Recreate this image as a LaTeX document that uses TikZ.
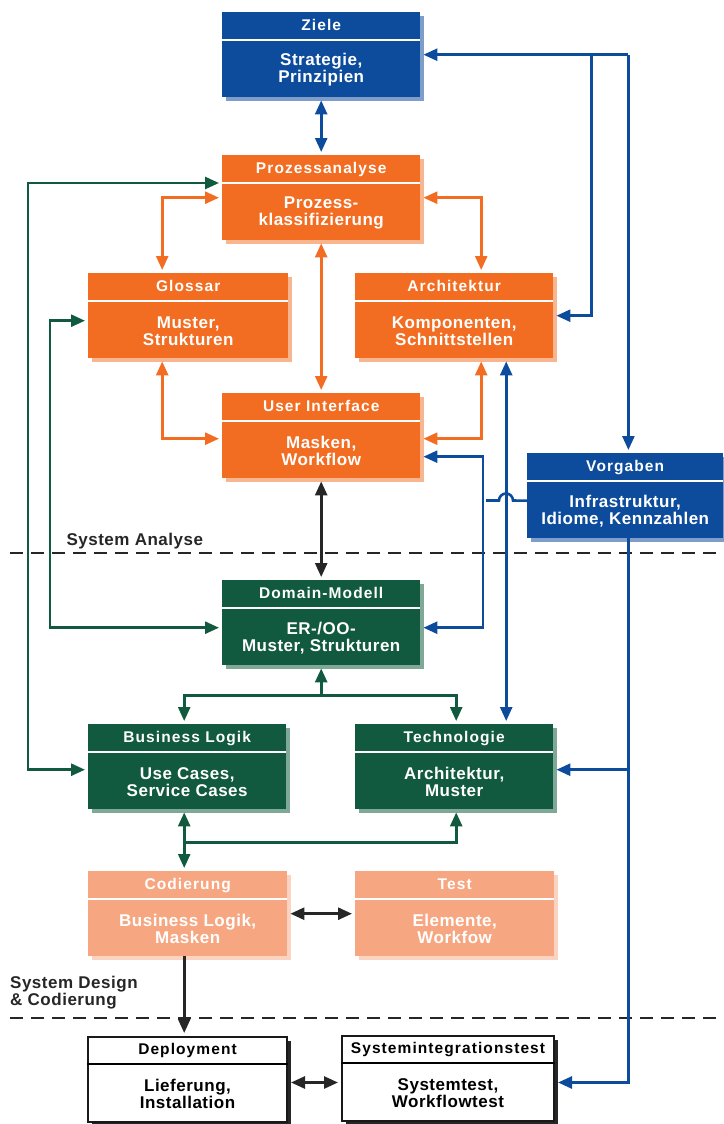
\documentclass[tikz,border=0pt]{standalone}
\usepackage{fontspec}
\setmainfont{Liberation Sans}
\newfontfamily\headfont{Liberation Sans}[LetterSpace=7]
\newfontfamily\bodyfont{Liberation Sans}[LetterSpace=3]
\usetikzlibrary{arrows.meta,shadows}

\definecolor{zblue}{HTML}{0D4C9C}
\definecolor{zblueS}{HTML}{7E9DCB}
\definecolor{zorange}{HTML}{F26D21}
\definecolor{zorangeS}{HTML}{F8B690}
\definecolor{zgreen}{HTML}{115A40}
\definecolor{zgreenS}{HTML}{80A897}
\definecolor{zsalmon}{HTML}{F6A782}
\definecolor{zsalmonS}{HTML}{FAD4C1}

\tikzset{
  box/.style={anchor=north west, inner sep=0pt, minimum width=198pt, minimum height=85pt},
  shade/.style={drop shadow={shadow xshift=4pt, shadow yshift=-4pt, fill=#1, opacity=1}},
  bluebox/.style={box, fill=zblue, shade=zblueS},
  orangebox/.style={box, fill=zorange, shade=zorangeS},
  greenbox/.style={box, fill=zgreen, shade=zgreenS},
  salmonbox/.style={box, fill=zsalmon, shade=zsalmonS},
  whitebox/.style={box, fill=white, draw=black!90, line width=2pt, shade=black!85},
  title/.style={font=\headfont\bfseries\fontsize{15.5}{17}\selectfont,
    inner sep=0pt, text height=11.5pt, text depth=3.3pt},
  body/.style={font=\bodyfont\bfseries\fontsize{17}{17}\selectfont, align=center},
  con/.style={line width=2.6pt, >={Triangle[length=14pt,width=12pt]}, shorten >=3pt},
  twoway/.style={<->, shorten <=3pt},
  bline/.style={con, zblue},
  oline/.style={con, zorange},
  gline/.style={con, zgreen},
  kline/.style={con, black!85},
  divline/.style={line width=2pt, black!85, dash pattern=on 13pt off 8pt},
}

% box with title bar and body text: [ink]{style}{name}{top left}{title}{body}
\newcommand\stage[6][white]{%
  \node[#2] (#3) at (#4) {};
  \draw[#1, line width=1.8pt] ([yshift=-28pt]#3.north west) -- ([yshift=-28pt]#3.north east);
  \node[title, text=#1] (#3-t) at ([yshift=-14pt]#3.north) {#5};
  \node[body, text=#1] (#3-b) at ([yshift=-58pt]#3.north) {#6};
}

\begin{document}
\begin{tikzpicture}[x=1pt, y=-1pt]
  \useasboundingbox (0,0) rectangle (723,1124);

  \stage{bluebox}{ziele}{222,12}{Ziele}{Strategie,\\Prinzipien}
  \stage{orangebox}{proz}{222,155}{Prozessanalyse}{Prozess-\\klassifizierung}
  \stage{orangebox, minimum width=200pt}{glossar}{88,273}{Glossar}{Muster,\\Strukturen}
  \stage{orangebox}{archi}{355,273}{Architektur}{Komponenten,\\Schnittstellen}
  \stage{orangebox}{ui}{222,393}{User Interface}{Masken,\\Workflow}
  \stage{bluebox, minimum width=196pt}{vorg}{527,453}{Vorgaben}{Infrastruktur,\\Idiome, Kennzahlen}
  \stage{greenbox}{domain}{222,580}{Domain-Modell}{ER-/OO-\\Muster, Strukturen}
  \stage{greenbox}{logik}{88,724}{Business Logik}{Use Cases,\\Service Cases}
  \stage{greenbox}{techno}{355,724}{Technologie}{Architektur,\\Muster}
  \stage{salmonbox, minimum width=199pt}{cod}{88,871}{Codierung}{Business Logik,\\Masken}
  \stage{salmonbox, minimum width=199pt}{test}{355,871}{Test}{Elemente,\\Workfow}
  \stage[black]{whitebox, minimum width=199pt}{deploy}{87,1036}{Deployment}{Lieferung,\\Installation}
  \stage[black]{whitebox, minimum width=212pt}{sit}{341,1035}{Systemintegrationstest}{Systemtest,\\Workflowtest}

  % phase borders
  \foreach \y in {553,1018}
    \draw[divline] (10,\y) -- (723,\y);
  \node[body, anchor=base west, text=black!85] (sa) at (63,545) {System Analyse};
  \node[body, anchor=north west, inner sep=0pt, align=left, text=black!85] (sd) at (10,976)
    {System Design\\\& Codierung};

  % junctions
  \coordinate (kn1) at ([xshift=208pt]ziele.east);
  \coordinate (kn2) at ([xshift=171pt]ziele.east);
  \coordinate (kn3) at (483,500.5);
  \coordinate (kn4) at ([yshift=-3pt]techno.east);
  \coordinate (kn5) at ([yshift=-30pt]domain.south);
  \coordinate (kn6) at ([xshift=-3pt,yshift=-33pt]logik.south);
  \coordinate (kn7) at ([yshift=-3pt]deploy.east);
  \coordinate (lane1) at (28,400);
  \coordinate (lane2) at (50,400);

  % blue
  \draw[bline,twoway] (ziele.south) -- (proz.north);
  \draw[bline,->] (kn1) -- (ziele.east);
  \draw[bline,->] (kn1) -- (kn1 |- vorg.north);
  \draw[bline,->] (kn2) |- (archi.east);
  \draw[bline,twoway] ([xshift=52pt]archi.south) -- ([xshift=52pt]techno.north);
  \draw[bline] ([yshift=-5pt]vorg.west) -- (513,500.5)
    arc[start angle=0, end angle=-180, radius=7] -- (kn3);
  \draw[bline,->] (kn3) |- ([yshift=-21pt]ui.east);
  \draw[bline,->] (kn3) |- ([yshift=-5pt]domain.east);
  \draw[bline,->] (kn1 |- vorg.south) |- ([yshift=-4pt]sit.east);
  \draw[bline,->] (kn1 |- kn4) -- (kn4);

  % orange
  \draw[oline,twoway] (proz.west) -| ([xshift=-26pt]glossar.north);
  \draw[oline,twoway] (proz.east) -| ([xshift=27pt]archi.north);
  \draw[oline,twoway] (proz.south) -- (ui.north);
  \draw[oline,twoway] ([xshift=-26pt]glossar.south) |- ([yshift=-3pt]ui.west);
  \draw[oline,twoway] ([xshift=27pt]archi.south) |- ([yshift=-3pt]ui.east);

  % green
  \draw[gline,twoway] ([yshift=-28pt]proz.north west) -| (lane1) |- ([yshift=-3pt]logik.west);
  \draw[gline,twoway] ([yshift=-5pt]glossar.west) -| (lane2) |- ([yshift=-5pt]domain.west);
  \draw[gline,->] (kn5) -- (domain.south);
  \draw[gline,->] (kn5) -| ([xshift=-3pt]logik.north);
  \draw[gline,->] (kn5) -| ([xshift=2pt]techno.north);
  \draw[gline,twoway] (kn6 |- logik.south) -- (kn6 |- cod.north);
  \draw[gline,->] (kn6) -| ([xshift=2pt]techno.south);

  % black
  \draw[kline,twoway] (ui.south) -- (domain.north);
  \draw[kline,twoway] (cod.east) -- (test.west);
  \draw[kline,->] (kn6 |- cod.south) -- (kn6 |- deploy.north);
  \draw[kline,twoway] (kn7) -- (kn7 -| sit.west);
\end{tikzpicture}
\end{document}
